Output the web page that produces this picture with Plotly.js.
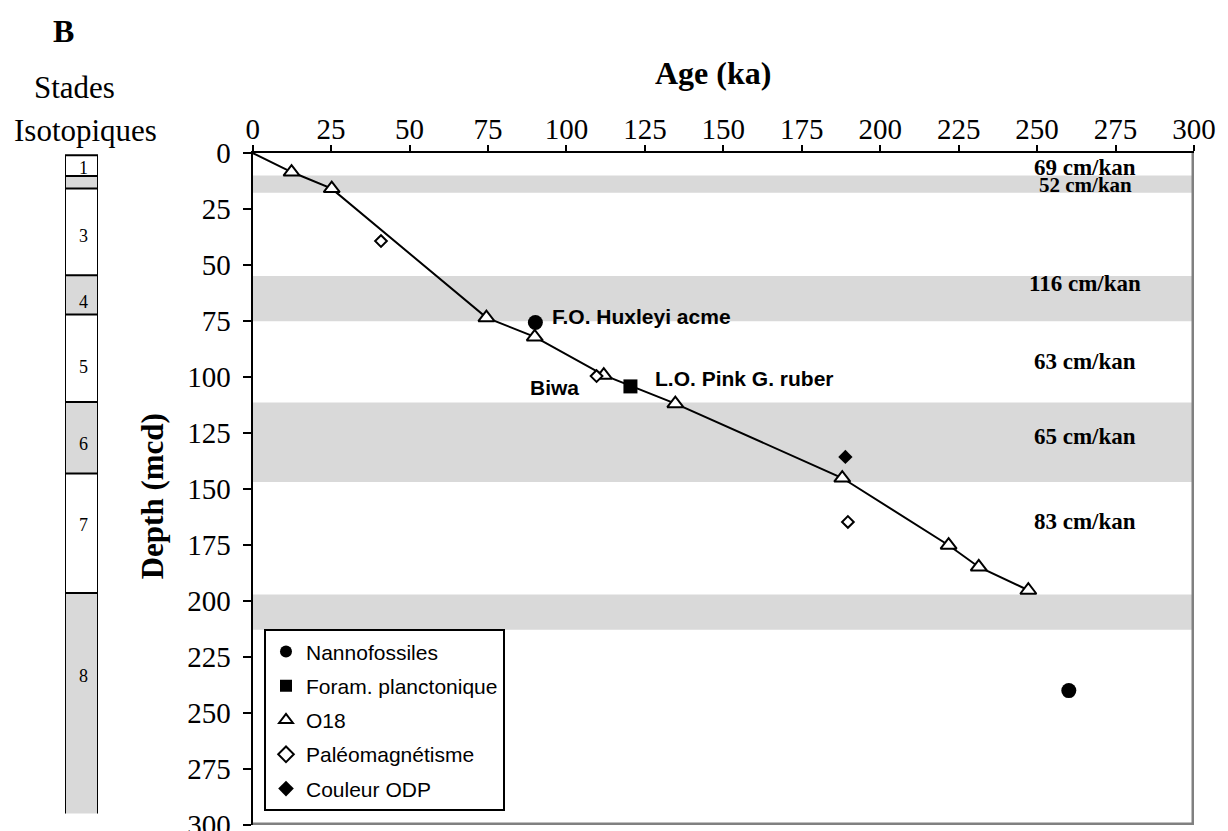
<!DOCTYPE html>
<html>
<head>
<meta charset="utf-8">
<script src="https://cdn.plot.ly/plotly-3.0.1.min.js"></script>
<style>html,body{margin:0;padding:0;background:#fff;}#chart{width:1228px;height:831px;}</style>
</head>
<body>
<div id="chart"></div>
<script>
// ---- Data ----
var modelAge   = [0, 12.4, 25.2, 74.5, 89.9, 111.9, 134.7, 187.9, 221.8, 231.4, 247.2];
var modelDepth = [0, 8.5, 15.9, 73.5, 82.1, 99.2, 111.9, 145.1, 175.1, 184.8, 195.2];

var nannoAge = [90.1, 260.1];
var nannoDepth = [75.7, 240];
var foramAge = [120.4];
var foramDepth = [104.2];
var o18Age = [12.4, 25.2, 74.5, 89.9, 111.9, 134.7, 187.9, 221.8, 231.4, 247.2];
var o18Depth = [8.5, 15.9, 73.5, 82.1, 99.2, 111.9, 145.1, 175.1, 184.8, 195.2];
var paleoAge = [40.9, 109.6, 189.7];
var paleoDepth = [39.3, 99.6, 164.7];
var odpAge = [188.9];
var odpDepth = [135.7];

var seriesNames = ["Nannofossiles", "Foram. planctonique", "O18", "Paléomagnétisme", "Couleur ODP"];

// gray bands in the age-depth plot (depth top, depth bottom)
var bandTop = [10.0, 54.9, 111.4, 197.1];
var bandBottom = [17.7, 75.1, 146.9, 212.8];

// sedimentation rate labels
var rateText = ["69 cm/kan", "52 cm/kan", "116 cm/kan", "63 cm/kan", "65 cm/kan", "83 cm/kan"];
var rateDepth = [6.3, 14.3, 58.3, 93, 126.5, 164.3];
var rateSize = [23, 21, 23, 23, 23, 23];

// event labels
var eventText = ["F.O. Huxleyi acme", "L.O. Pink G. ruber", "Biwa"];
var eventAge = [94.8, 127.7, 96.3];
var eventDepth = [72.9, 100.7, 104.6];
var eventAnchor = ["left", "left", "center"];

// isotopic stages column
var stageTop = [1.0, 10.3, 15.9, 54.6, 72.1, 111.2, 143.1, 196.4];
var stageBottom = [10.3, 15.9, 54.6, 72.1, 111.2, 143.1, 196.4, 294.9];
var stageFill = ["#ffffff", "#d9d9d9", "#ffffff", "#d9d9d9", "#ffffff", "#d9d9d9", "#ffffff", "#d9d9d9"];
var stageLabel = ["1", "3", "4", "5", "6", "7", "8"];
var stageLabelDepth = [6.8, 37.1, 66.5, 95.5, 129.7, 166.2, 233.6];

var tickVals = [0, 25, 50, 75, 100, 125, 150, 175, 200, 225, 250, 275, 300];

// ---- Traces ----
var traces = [
  {x: modelAge, y: modelDepth, mode: "lines", line: {color: "#000", width: 2}, showlegend: false, hoverinfo: "skip"},
  {x: nannoAge, y: nannoDepth, mode: "markers", name: seriesNames[0], legendgroup: "a",
   marker: {symbol: "circle", size: 15, color: "#000"}},
  {x: foramAge, y: foramDepth, mode: "markers", name: seriesNames[1], legendgroup: "b",
   marker: {symbol: "square", size: 14, color: "#000"}},
  {x: o18Age, y: o18Depth, mode: "markers", name: seriesNames[2], legendgroup: "c",
   marker: {symbol: "triangle-up", size: 14, color: "#fff", line: {color: "#000", width: 2}}},
  {x: paleoAge, y: paleoDepth, mode: "markers", name: seriesNames[3], legendgroup: "d",
   marker: {symbol: "diamond", size: 9, color: "#fff", line: {color: "#000", width: 2}}},
  {x: odpAge, y: odpDepth, mode: "markers", name: seriesNames[4], legendgroup: "e",
   marker: {symbol: "diamond", size: 11, color: "#000"}}
];

// ---- Shapes ----
var shapes = [];
for (var i = 0; i < bandTop.length; i++) {
  shapes.push({type: "rect", xref: "x", yref: "y", x0: 0, x1: 300, y0: bandTop[i], y1: bandBottom[i],
    fillcolor: "#d9d9d9", line: {width: 0}, layer: "below"});
}
// stage column fills
for (var j = 0; j < stageTop.length; j++) {
  shapes.push({type: "rect", xref: "x2", yref: "y2", x0: 0, x1: 1, y0: stageTop[j], y1: stageBottom[j],
    fillcolor: stageFill[j], line: {width: 0}});
}
// stage column boundaries
for (var k = 0; k < stageTop.length; k++) {
  shapes.push({type: "line", xref: "x2", yref: "y2", x0: 0, x1: 1, y0: stageTop[k], y1: stageTop[k],
    line: {color: "#000", width: 2}});
}
shapes.push({type: "line", xref: "x2", yref: "y2", x0: 0, x1: 0, y0: stageTop[0], y1: stageBottom[stageBottom.length - 1], line: {color: "#000", width: 2}});
shapes.push({type: "line", xref: "x2", yref: "y2", x0: 1, x1: 1, y0: stageTop[0], y1: stageBottom[stageBottom.length - 1], line: {color: "#000", width: 2}});
// right and bottom frame (gray)
shapes.push({type: "line", xref: "x", yref: "y", x0: 300, x1: 300, y0: 0, y1: 300, line: {color: "#808080", width: 5}});
shapes.push({type: "line", xref: "x", yref: "y", x0: 0, x1: 300, y0: 300, y1: 300, line: {color: "#808080", width: 5}});

// ---- Annotations ----
var serif = "Liberation Serif, Times New Roman, serif";
var sans = "Liberation Sans, Arial, sans-serif";
var ann = [];
for (var r = 0; r < rateText.length; r++) {
  ann.push({xref: "x", yref: "y", x: 265.3, y: rateDepth[r], text: rateText[r], showarrow: false,
    xanchor: "center", yanchor: "middle", font: {family: serif, size: rateSize[r], color: "#000", weight: "bold"}});
}
for (var e = 0; e < eventText.length; e++) {
  ann.push({xref: "x", yref: "y", x: eventAge[e], y: eventDepth[e], text: eventText[e], showarrow: false,
    xanchor: eventAnchor[e], yanchor: "middle", font: {family: sans, size: 21, color: "#000", weight: "bold"}});
}
for (var s = 0; s < stageLabel.length; s++) {
  ann.push({xref: "x2", yref: "y2", x: 0.55, y: stageLabelDepth[s], text: stageLabel[s], showarrow: false,
    xanchor: "center", yanchor: "middle", font: {family: serif, size: 18, color: "#000"}});
}
ann.push({xref: "paper", yref: "paper", x: 713.3 / 1194, y: 1.1193, text: "Age (ka)", showarrow: false,
  xanchor: "center", yanchor: "middle", font: {family: serif, size: 32, color: "#000", weight: "bold"}});
ann.push({xref: "paper", yref: "paper", x: 152 / 1194, y: 0.4891, text: "Depth (mcd)", showarrow: false, textangle: -90,
  xanchor: "center", yanchor: "middle", font: {family: serif, size: 31, color: "#000", weight: "bold"}});
ann.push({xref: "paper", yref: "paper", x: 63.5 / 1194, y: 1.181, text: "B", showarrow: false,
  xanchor: "center", yanchor: "middle", font: {family: serif, size: 32, color: "#000", weight: "bold"}});
ann.push({xref: "paper", yref: "paper", x: 74.5 / 1194, y: 1.0977, text: "Stades", showarrow: false,
  xanchor: "center", yanchor: "middle", font: {family: serif, size: 31, color: "#000"}});
ann.push({xref: "paper", yref: "paper", x: 85.5 / 1194, y: 1.0336, text: "Isotopiques", showarrow: false,
  xanchor: "center", yanchor: "middle", font: {family: serif, size: 31, color: "#000"}});

// ---- Layout ----
var layout = {
  width: 1228, height: 831,
  margin: {l: 0, r: 34, t: 152.7, b: 6.3},
  paper_bgcolor: "#fff", plot_bgcolor: "rgba(0,0,0,0)",
  showlegend: true,
  xaxis: {domain: [0.2116, 1], range: [0, 300], side: "top", tickvals: tickVals, ticks: "outside", ticklen: 6,
    tickwidth: 2, tickcolor: "#000", showline: true, linewidth: 2, linecolor: "#000", showgrid: false, zeroline: false,
    tickfont: {family: serif, size: 29, color: "#000"}, ticklabelstandoff: -6, ticklabeloverflow: "allow",
    anchor: "y", fixedrange: true},
  yaxis: {domain: [0, 1], range: [300, 0], tickvals: tickVals, ticks: "outside", ticklen: 8, tickwidth: 2, tickcolor: "#000",
    showline: true, linewidth: 2, linecolor: "#000", showgrid: false, zeroline: false, anchor: "x",
    tickfont: {family: serif, size: 29, color: "#000"}, ticklabelstandoff: 6, ticklabeloverflow: "allow", fixedrange: true},
  xaxis2: {domain: [65 / 1194, 98 / 1194], range: [0, 1], visible: false, anchor: "y2", fixedrange: true},
  yaxis2: {domain: [0, 1], range: [300, 0], visible: false, anchor: "x2", fixedrange: true},
  legend: {x: 264 / 1194, y: 0.2913, xanchor: "left", yanchor: "top", bgcolor: "#fff", bordercolor: "#000", borderwidth: 2,
    font: {family: sans, size: 21, color: "#000"}, traceorder: "grouped", tracegroupgap: 4, itemwidth: 30,
    itemsizing: "constant"},
  shapes: shapes,
  annotations: ann
};

Plotly.newPlot("chart", traces, layout, {displayModeBar: false, staticPlot: true});
</script>
</body>
</html>
